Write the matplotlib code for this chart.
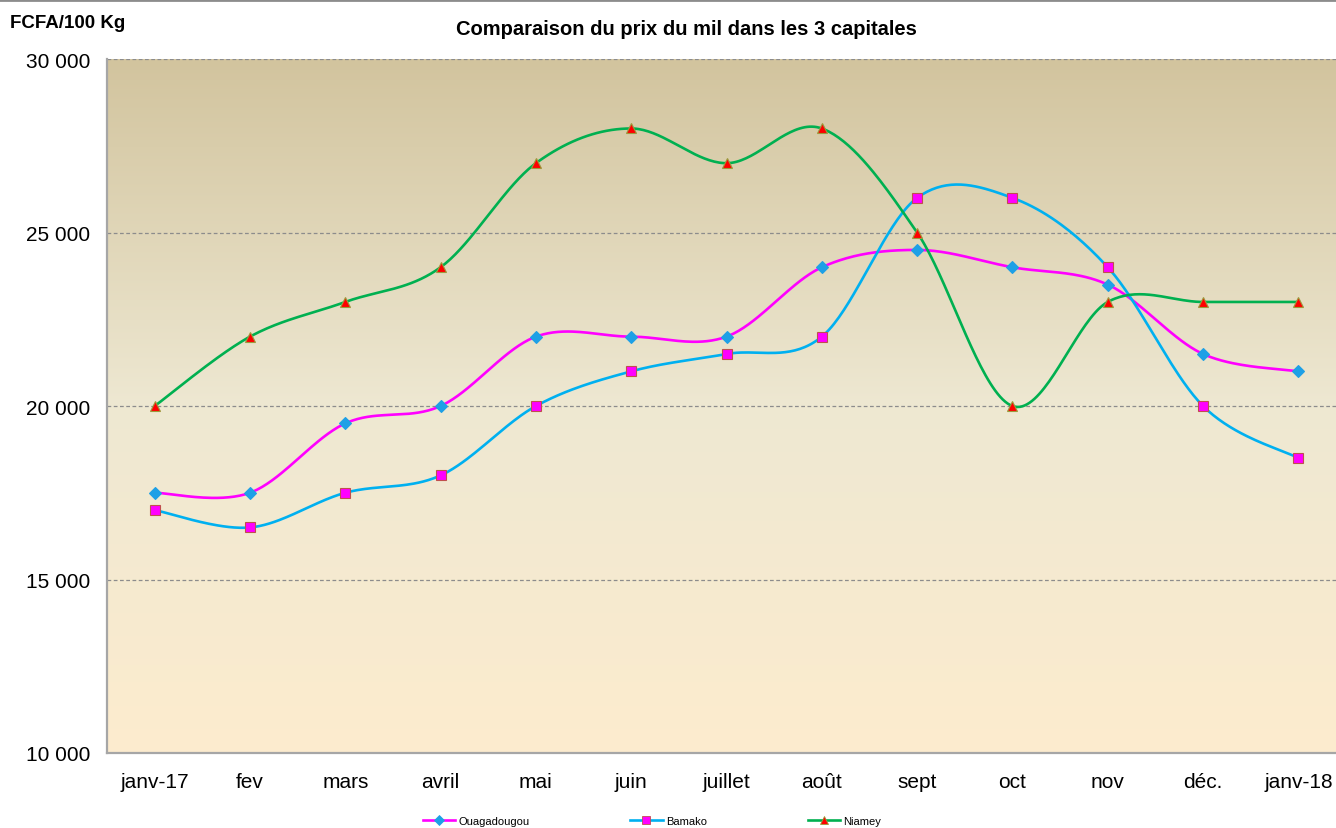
import numpy as np
import matplotlib
matplotlib.use("Agg")
import matplotlib.pyplot as plt
from matplotlib.lines import Line2D

plt.rcParams['font.family'] = ['Liberation Sans', 'DejaVu Sans']

months = ["janv-17", "fev", "mars", "avril", "mai", "juin", "juillet",
          "août", "sept", "oct", "nov", "déc.", "janv-18"]
ouagadougou = [17500, 17500, 19500, 20000, 22000, 22000, 22000, 24000, 24500, 24000, 23500, 21500, 21000]
bamako = [17000, 16500, 17500, 18000, 20000, 21000, 21500, 22000, 26000, 26000, 24000, 20000, 18500]
niamey = [20000, 22000, 23000, 24000, 27000, 28000, 27000, 28000, 25000, 20000, 23000, 23000, 23000]
yticks = [10000, 15000, 20000, 25000, 30000]


def smooth(xs, ys, n=40):
    """Excel-like smoothed line (Catmull-Rom Bezier) through the points."""
    P = np.column_stack([xs, ys]).astype(float)
    out = [P[0]]
    t = np.linspace(0, 1, n)[1:]
    for i in range(len(P) - 1):
        p0 = P[i - 1] if i > 0 else P[i]
        p1 = P[i]
        p2 = P[i + 1]
        p3 = P[i + 2] if i + 2 < len(P) else P[i + 1]
        c1 = p1 + (p2 - p0) / 6.0
        c2 = p2 - (p3 - p1) / 6.0
        for tt in t:
            b = ((1 - tt) ** 3) * p1 + 3 * ((1 - tt) ** 2) * tt * c1 + 3 * (1 - tt) * tt ** 2 * c2 + tt ** 3 * p2
            out.append(b)
    out = np.array(out)
    return out[:, 0], out[:, 1]


fig = plt.figure(figsize=(13.36, 8.29), dpi=100)
ax = fig.add_axes([0.0801, 0.0905, 0.9274, 0.837])

x = np.arange(len(months))
ax.set_xlim(-0.5, len(months) - 0.5)
ax.set_ylim(10000, 30000)

# background gradient
stops = np.array([[210, 196, 158], [238, 232, 210], [253, 236, 206]]) / 255.0
g = np.linspace(0, 1, 256)
cols = np.zeros((256, 1, 3))
for c in range(3):
    cols[:, 0, c] = np.interp(g, [0, 0.5, 1], stops[:, c])
ax.imshow(cols, extent=[-0.5, len(months) - 0.5, 10000, 30000], origin='upper',
          aspect='auto', zorder=0, interpolation='bilinear')

for yv in yticks[1:]:
    ax.axhline(yv, color='#8c8c8c', lw=0.9, ls=(0, (3, 2)), zorder=1)

series = [
    ("Ouagadougou", ouagadougou, '#ff00ff', 'D', '#1ea0e6', '#1ea0e6', 6.5),
    ("Bamako", bamako, '#00b0f0', 's', '#ff00ff', '#c0504d', 7),
    ("Niamey", niamey, '#00b050', '^', '#ff0000', '#9b9b3c', 7.5),
]
handles = []
for name, vals, lc, mk, mfc, mec, ms in series:
    sx, sy = smooth(x, vals)
    ax.plot(sx, sy, color=lc, lw=1.9, zorder=3, solid_capstyle='round')
    ax.plot(x, vals, ls='none', marker=mk, markersize=ms, markerfacecolor=mfc,
            markeredgecolor=mec, markeredgewidth=0.8, zorder=4)
    handles.append(Line2D([0], [0], color=lc, lw=1.9, marker=mk, markersize=ms * 0.8,
                          markerfacecolor=mfc, markeredgecolor=mec, markeredgewidth=0.6,
                          label=name))

ax.set_xticks(x)
ax.set_xticklabels(months, fontsize=15)
ax.set_yticks(yticks)
ax.set_yticklabels([f"{v:,}".replace(",", " ") for v in yticks], fontsize=15)
ax.tick_params(axis='both', length=0)
ax.tick_params(axis='y', pad=12)
ax.tick_params(axis='x', pad=14)

for s in ['top', 'right']:
    ax.spines[s].set_visible(False)
ax.spines['left'].set_color('#a6a6a6')
ax.spines['left'].set_linewidth(1.6)
ax.spines['bottom'].set_color('#a6a6a6')
ax.spines['bottom'].set_linewidth(1.6)
ax.spines['left'].set_zorder(5)
ax.spines['bottom'].set_zorder(5)

fig.text(0.514, 0.965, "Comparaison du prix du mil dans les 3 capitales",
         ha='center', va='center', fontsize=14.5, fontweight='bold')
fig.text(0.0075, 0.972, "FCFA/100 Kg", ha='left', va='center', fontsize=13.5, fontweight='bold')

fig.legend(handles=handles, loc='center', bbox_to_anchor=(0.488, 0.0085), ncol=3,
           frameon=False, fontsize=8, handlelength=2.9, handletextpad=0.3,
           columnspacing=9.1, borderpad=0)

fig.add_artist(Line2D([0, 1], [0.9985, 0.9985], transform=fig.transFigure,
                      color='#8c8c8c', lw=2))

fig.savefig("out.png", dpi=100)
